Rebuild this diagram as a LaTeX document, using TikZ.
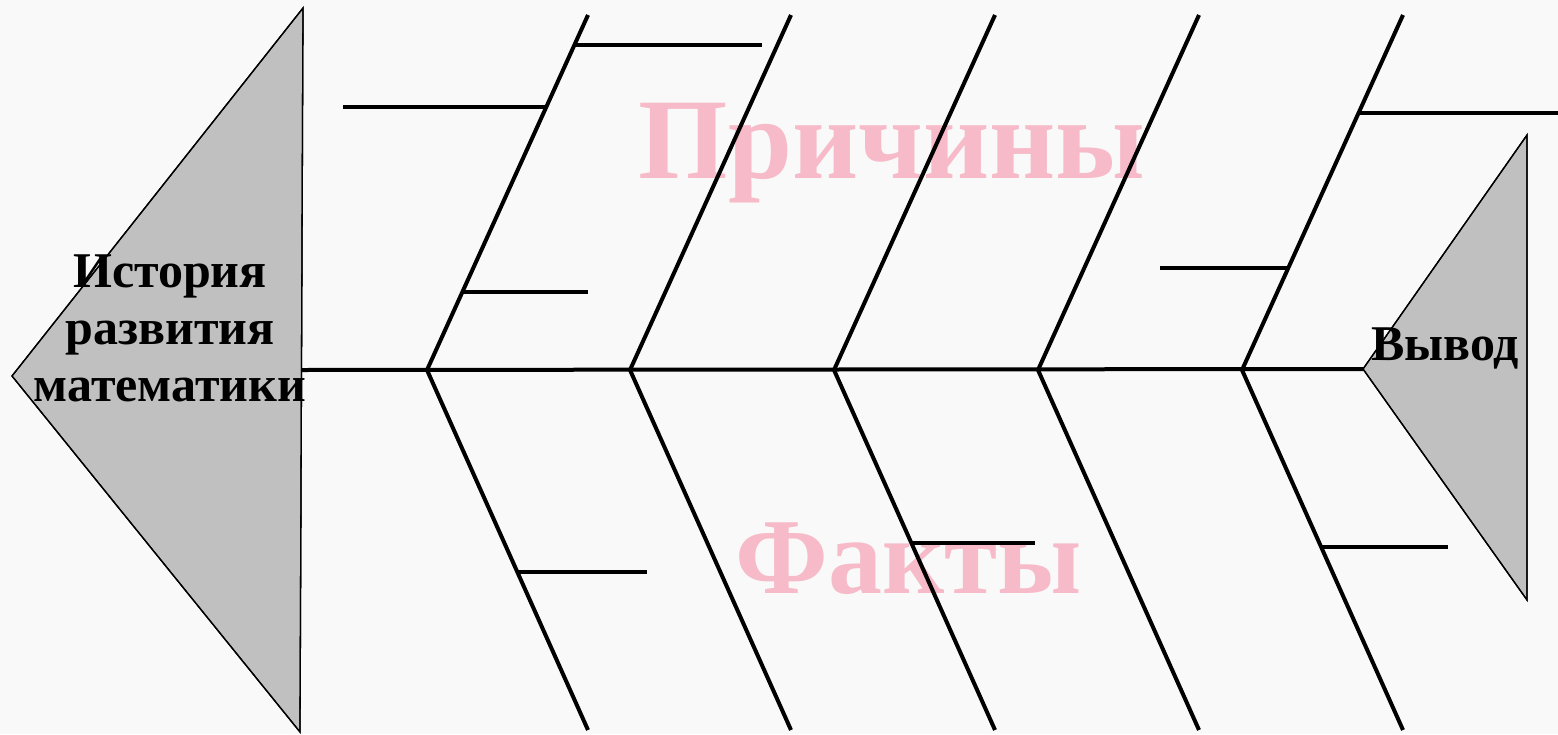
\documentclass[tikz,border=0pt]{standalone}
\usepackage{fontspec}
\setmainfont{Liberation Serif}
\definecolor{bgc}{RGB}{249,249,249}
\definecolor{tri}{RGB}{192,192,192}
\definecolor{pinktxt}{RGB}{247,186,200}
\tikzset{
  bone/.style={line width=4pt, line cap=butt},
  twig/.style={line width=4pt},
  fishtri/.style={fill=tri, draw=black, line width=1.3pt, line join=miter},
  edgeonly/.style={draw=black, line width=1.3pt},
  title/.style={text=pinktxt, inner sep=0pt},
  label/.style={text=black, font=\bfseries\fontsize{50}{57}\selectfont, align=center, inner sep=0pt}
}
\begin{document}
\begin{tikzpicture}[x=1pt,y=-1pt]
\fill[bgc] (0,0) rectangle (1558,734);
\useasboundingbox (0,0) rectangle (1558,734);

% triangles
\coordinate (LA) at (12,376);
\coordinate (LT) at (303,8);
\coordinate (LB) at (300,732);
\coordinate (RA) at (1363,369);
\coordinate (RT) at (1527,135);
\coordinate (RB) at (1527,600);
\path[fishtri] (LA) -- (LT) -- (LB) -- cycle;
\path[fishtri] (RA) -- (RT) -- (RB) -- cycle;

% pink titles
\node[title, anchor=base, font=\bfseries\fontsize{115}{115}\selectfont] (causes) at (892,178) {Причины};
\node[title, anchor=base, font=\bfseries\fontsize{108}{108}\selectfont] (facts) at (909,593) {Факты};

% spine
\coordinate (sp0) at (301,370);
\foreach \i/\x in {1/427,2/630,3/834,4/1038,5/1242}{
  \coordinate (s\i) at (\x,370);
  \coordinate (t\i) at (\x+161,15);
  \coordinate (b\i) at (\x+161,730);
}
\draw[bone] (sp0) -- (RA);
\foreach \i in {1,...,5}{
  \draw[bone] (s\i) -- (t\i);
  \draw[bone] (s\i) -- (b\i);
}

% twigs
\coordinate (w1a) at (343,107); \coordinate (w1b) at (546,107);
\coordinate (w2a) at (574,45);  \coordinate (w2b) at (762,45);
\coordinate (w3a) at (462,292); \coordinate (w3b) at (588,292);
\coordinate (w4a) at (1160,268); \coordinate (w4b) at (1288,268);
\coordinate (w5a) at (1359,113); \coordinate (w5b) at (1558,113);
\coordinate (w6a) at (517,572); \coordinate (w6b) at (647,572);
\coordinate (w7a) at (912,543); \coordinate (w7b) at (1035,543);
\coordinate (w8a) at (1322,547); \coordinate (w8b) at (1448,547);
\foreach \k in {1,...,8}{ \draw[twig] (w\k a) -- (w\k b); }

% labels
\node[label] (hist) at (170,328) {История\\развития\\математики};
\node[label, anchor=base] (concl) at (1445,360) {Вывод};

% triangle edges over text
\draw[edgeonly] (LA) -- (LT) -- (LB) -- cycle;
\draw[edgeonly] (RA) -- (RT) -- (RB) -- cycle;
\end{tikzpicture}
\end{document}
